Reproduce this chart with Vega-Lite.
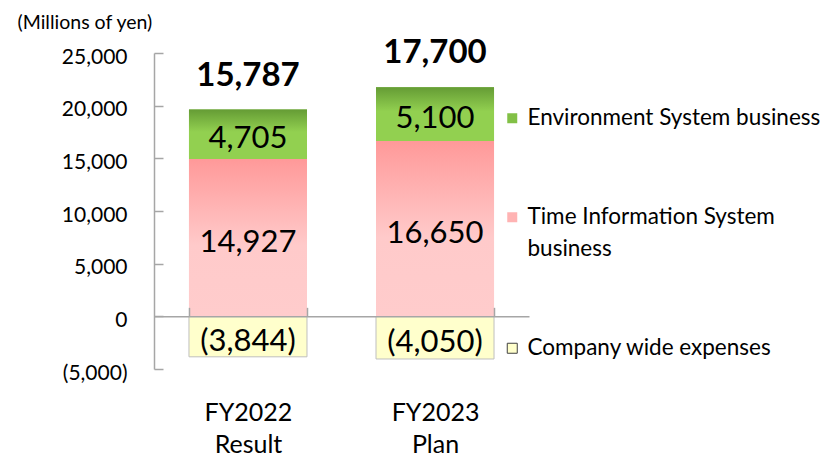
{
  "$schema": "https://vega.github.io/schema/vega-lite/v6.json",
  "width": 375,
  "height": 316,
  "autosize": {"type": "none"},
  "padding": {"left": 154, "top": 53, "right": 298, "bottom": 89},
  "background": "white",
  "config": {"view": {"stroke": null}, "font": "Lato"},
  "datasets": {
    "segments": [
      {"category": "FY2022|Result", "segment": "Time Information System business", "value": 14927},
      {"category": "FY2022|Result", "segment": "Environment System business", "value": 4705},
      {"category": "FY2022|Result", "segment": "Company wide expenses", "value": -3844},
      {"category": "FY2023|Plan", "segment": "Time Information System business", "value": 16650},
      {"category": "FY2023|Plan", "segment": "Environment System business", "value": 5100},
      {"category": "FY2023|Plan", "segment": "Company wide expenses", "value": -4050}
    ],
    "totals": [
      {"category": "FY2022|Result", "total": 15787},
      {"category": "FY2023|Plan", "total": 17700}
    ]
  },
  "data": {"name": "segments"},
  "transform": [
    {"stack": "value", "groupby": ["category"], "sort": [{"field": "segment", "order": "descending"}], "as": ["y0", "y1"]},
    {"calculate": "(datum.y0 + datum.y1) / 2", "as": "ymid"},
    {"calculate": "datum.value < 0 ? '(' + format(-datum.value, ',') + ')' : format(datum.value, ',')", "as": "label"}
  ],
  "encoding": {
    "x": {
      "field": "category",
      "type": "nominal",
      "sort": null,
      "scale": {"paddingInner": 0.369, "paddingOuter": 0.187},
      "axis": {
        "orient": "bottom",
        "offset": -52.67,
        "title": null,
        "zindex": 1,
        "domainColor": "#A6A6A6",
        "domainWidth": 1.5,
        "tickColor": "#A6A6A6",
        "tickWidth": 1.5,
        "tickSize": -9,
        "tickBand": "extent",
        "labelAngle": 0,
        "labelFont": "Lato",
        "labelFontSize": 25,
        "labelLineHeight": 32,
        "labelColor": "#000000",
        "labelPadding": 93,
        "labelExpr": "split(datum.label, '|')"
      }
    }
  },
  "layer": [
    {
      "mark": {"type": "bar"},
      "encoding": {
        "y": {
          "field": "y1",
          "type": "quantitative",
          "scale": {"domain": [-5000, 25000], "nice": false, "zero": false},
          "axis": {
            "values": [-5000, 0, 5000, 10000, 15000, 20000, 25000],
            "labelExpr": "datum.value < 0 ? '(' + format(-datum.value, ',') + ')' : format(datum.value, ',')",
            "grid": false,
            "domainColor": "#A6A6A6",
            "domainWidth": 1.5,
            "tickColor": "#A6A6A6",
            "tickWidth": 1.5,
            "tickSize": -9,
            "labelFont": "Lato",
            "labelFontSize": 21,
            "labelColor": "#000000",
            "labelPadding": 36,
            "labelOffset": 4,
            "title": "(Millions of yen)",
            "titleAngle": 0,
            "titleAlign": "left",
            "titleBaseline": "middle",
            "titleX": -137,
            "titleY": -31,
            "titleFont": "Lato",
            "titleFontSize": 19.5,
            "titleFontWeight": "normal",
            "titleColor": "#000000"
          }
        },
        "y2": {"field": "y0"},
        "color": {
          "field": "segment",
          "type": "nominal",
          "scale": {
            "domain": ["Environment System business", "Time Information System business", "Company wide expenses"],
            "range": ["#82C046", "#FFB3B3", "#FFFFCC"]
          },
          "legend": {
            "orient": "none",
            "legendX": 347,
            "legendY": 54,
            "title": null,
            "padding": 0,
            "symbolType": "square",
            "symbolSize": 100,
            "labelFont": "Lato",
            "labelFontSize": 22.5,
            "labelColor": "#000000",
            "labelLimit": 400,
            "labelOffset": 4,
            "rowPadding": 76,
            "labelExpr": "datum.label == 'Time Information System business' ? ['Time Information System', 'business'] : datum.label",
            "encode": {
              "labels": {"update": {
                "lineHeight": {"value": 32}
              }},
              "symbols": {"update": {
                "stroke": {"signal": "datum.value == 'Company wide expenses' ? '#404040' : 'transparent'"},
                "strokeWidth": {"value": 1}
              }}
            }
          }
        }
      }
    },
    {
      "transform": [{"filter": "datum.segment == 'Company wide expenses'"}],
      "mark": {"type": "bar", "fill": "#FFFFCC", "stroke": "#BFBFBF", "strokeWidth": 1},
      "encoding": {"y": {"field": "y1", "type": "quantitative"}, "y2": {"field": "y0"}}
    },
    {
      "transform": [{"filter": "datum.segment == 'Time Information System business'"}],
      "mark": {
        "type": "bar",
        "color": {
          "gradient": "linear", "x1": 0, "y1": 0, "x2": 0, "y2": 1,
          "stops": [
            {"offset": 0, "color": "#FF9999"},
            {"offset": 0.55, "color": "#FFCACA"},
            {"offset": 1, "color": "#FFCCCC"}
          ]
        }
      },
      "encoding": {"y": {"field": "y1", "type": "quantitative"}, "y2": {"field": "y0"}}
    },
    {
      "transform": [{"filter": "datum.segment == 'Environment System business'"}],
      "mark": {
        "type": "bar",
        "color": {
          "gradient": "linear", "x1": 0, "y1": 0, "x2": 0, "y2": 1,
          "stops": [
            {"offset": 0, "color": "#659C35"},
            {"offset": 0.45, "color": "#92D050"},
            {"offset": 1, "color": "#92D050"}
          ]
        }
      },
      "encoding": {"y": {"field": "y1", "type": "quantitative"}, "y2": {"field": "y0"}}
    },
    {
      "mark": {"type": "text", "font": "Lato", "fontSize": 31, "color": "#000000", "baseline": "middle", "dy": 5},
      "encoding": {
        "y": {"field": "ymid", "type": "quantitative"},
        "text": {"field": "label", "type": "nominal"}
      }
    },
    {
      "transform": [
        {"filter": "datum.segment == 'Environment System business'"},
        {"lookup": "category", "from": {"data": {"name": "totals"}, "key": "category", "fields": ["total"]}}
      ],
      "mark": {"type": "text", "font": "Lato", "fontSize": 33, "fontWeight": "bold", "color": "#000000", "baseline": "alphabetic", "dy": -24},
      "encoding": {
        "y": {"field": "y1", "type": "quantitative"},
        "text": {"field": "total", "type": "quantitative", "format": ","}
      }
    }
  ]
}
